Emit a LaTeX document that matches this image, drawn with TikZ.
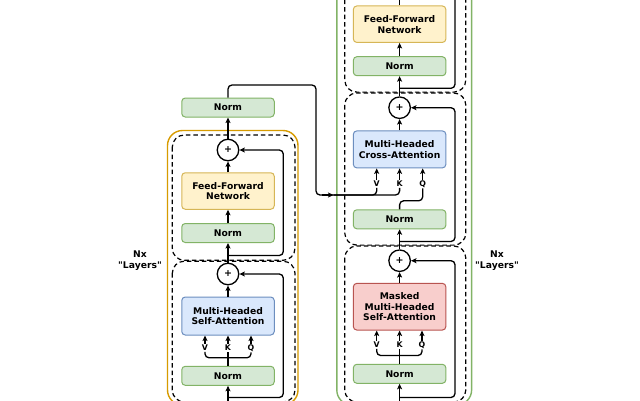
\documentclass[tikz,border=0pt]{standalone}
\usepackage{fontspec}
\setmainfont{DejaVu Sans}[Ligatures=TeXOff]
\usetikzlibrary{arrows.meta}
\definecolor{normfill}{HTML}{D5E8D4}
\definecolor{normdraw}{HTML}{82B366}
\definecolor{ffnfill}{HTML}{FFF2CC}
\definecolor{ffndraw}{HTML}{D6B656}
\definecolor{attfill}{HTML}{DAE8FC}
\definecolor{attdraw}{HTML}{6C8EBF}
\definecolor{maskfill}{HTML}{F8CECC}
\definecolor{maskdraw}{HTML}{B85450}
\definecolor{encframe}{HTML}{D79B00}
\definecolor{decframe}{HTML}{82B366}
\tikzset{
  basebox/.style={draw, rounded corners=3.5pt, minimum width=92.5pt, align=center,
    font=\bfseries\fontsize{9.2}{10.8}\selectfont, line width=1pt, inner sep=0pt},
  normbox/.style={basebox, fill=normfill, draw=normdraw, minimum height=19pt},
  ffnbox/.style={basebox, fill=ffnfill, draw=ffndraw, minimum height=36.5pt},
  attbox/.style={basebox, fill=attfill, draw=attdraw},
  maskbox/.style={basebox, fill=maskfill, draw=maskdraw},
  addc/.style={circle, draw, line width=1.3pt, minimum size=21.5pt, inner sep=0pt,
    font=\bfseries\fontsize{9.5}{9.5}\selectfont},
  lbl/.style={font=\bfseries\fontsize{7.8}{7.8}\selectfont, inner sep=0.8pt},
  ln/.style={line width=1.3pt, rounded corners=4pt},
  arr/.style={line width=1.3pt, rounded corners=4pt, -{Stealth[length=5.5pt,width=5pt,inset=1.3pt]}},
  dbox/.style={line width=1.2pt, dash pattern=on 4.5pt off 3pt, rounded corners=12pt},
  frame/.style={line width=1.4pt, rounded corners=15pt},
  side/.style={align=center, font=\bfseries\fontsize{9.2}{10.8}\selectfont},
}
\begin{document}
\begin{tikzpicture}[x=1pt,y=-1pt]
\clip (0,0) rectangle (640,400);
\fill[white] (0,0) rectangle (640,400);

% containers
\draw[frame, draw=encframe] (167.5,130.5) rectangle (298,405);
\draw[frame, draw=decframe] (336.8,-20) rectangle (471.6,405);
\draw[dbox] (172.3,135) rectangle (295,260.3);
\draw[dbox] (172.3,261.2) rectangle (295,402);
\draw[dbox] (344.8,-20) rectangle (465.8,92.1);
\draw[dbox] (344.8,93) rectangle (465.8,245.1);
\draw[dbox] (344.8,246) rectangle (465.8,402);

% side labels
\node[side] (nxL) at (140,260.5) {Nx\\"Layers"};
\node[side] (nxR) at (497,260.5) {Nx\\"Layers"};

% ---------------- encoder ----------------
\node[normbox] (eTopNorm) at (228,107.5) {Norm};
\node[addc] (eAdd2) at (228,150) {+};
\node[ffnbox] (eFFN) at (228,191) {Feed-Forward\\Network};
\node[normbox] (eNorm2) at (228,233) {Norm};
\node[addc] (eAdd1) at (228,274) {+};
\node[attbox, minimum height=38pt] (eMHA) at (228,316) {Multi-Headed\\Self-Attention};
\node[lbl] (eV) at (205,348) {V};
\node[lbl] (eK) at (228,348) {K};
\node[lbl] (eQ) at (251,348) {Q};
\node[normbox] (eNorm1) at (228,375.8) {Norm};

\coordinate (eIn) at (228,410);
\coordinate (eB1) at (228,397.5);
\coordinate (eR1) at (283.3,274);
\coordinate (eB2) at (228,255.5);
\coordinate (eR2) at (283.3,150);
\coordinate (eBr) at (228,357.8);

\draw[arr] (eIn) -- (eNorm1.south);
\draw[arr] (eB1) -| (eR1) -- (eAdd1.east);
\draw[ln] (eNorm1.north) -- (eK.south);
\draw[ln] (eV.south) |- (eBr) -| (eQ.south);
\draw[arr] (eV.north) -- (eV.north |- eMHA.south);
\draw[arr] (eK.north) -- (eK.north |- eMHA.south);
\draw[arr] (eQ.north) -- (eQ.north |- eMHA.south);
\draw[arr] (eMHA.north) -- (eAdd1.south);
\draw[arr] (eAdd1.north) -- (eNorm2.south);
\draw[arr] (eB2) -| (eR2) -- (eAdd2.east);
\draw[arr] (eNorm2.north) -- (eFFN.south);
\draw[arr] (eFFN.north) -- (eAdd2.south);
\draw[arr] (eAdd2.north) -- (eTopNorm.south);

% ---------------- decoder ----------------
\node[ffnbox] (dFFN) at (399.6,24.2) {Feed-Forward\\Network};
\node[normbox] (dNorm3) at (399.6,66.2) {Norm};
\node[addc] (dAdd2) at (399.6,107.7) {+};
\node[attbox, minimum height=37pt] (dCA) at (399.6,149.4) {Multi-Headed\\Cross-Attention};
\node[lbl] (dV) at (376.7,184) {V};
\node[lbl] (dK) at (399.6,184) {K};
\node[lbl] (dQ) at (422.7,184) {Q};
\node[normbox] (dNorm2) at (399.6,219.3) {Norm};
\node[addc] (dAdd1) at (399.6,260.7) {+};
\node[maskbox, minimum height=46.7pt] (dMHA) at (399.6,306.7) {Masked\\Multi-Headed\\Self-Attention};
\node[lbl] (dV1) at (376.7,345) {V};
\node[lbl] (dK1) at (399.6,345) {K};
\node[lbl] (dQ1) at (422,345) {Q};
\node[normbox] (dNorm1) at (399.6,373.8) {Norm};

\coordinate (dIn) at (399.6,410);
\coordinate (dB1) at (399.6,397.5);
\coordinate (dR1) at (455,260.7);
\coordinate (dBr1) at (399.6,355.5);
\coordinate (dB2) at (399.6,241.5);
\coordinate (dR2) at (455,107.7);
\coordinate (dB3) at (399.6,88.3);
\coordinate (dR3) at (455,-10);
\coordinate (dOut) at (399.6,-10);
\coordinate (qC) at (422.7,200.8);

\draw[arr] (dIn) -- (dNorm1.south);
\draw[arr] (dB1) -| (dR1) -- (dAdd1.east);
\draw[ln] (dNorm1.north) -- (dK1.south);
\draw[ln] (dV1.south) |- (dBr1) -| (dQ1.south);
\draw[arr] (dV1.north) -- (dV1.north |- dMHA.south);
\draw[arr] (dK1.north) -- (dK1.north |- dMHA.south);
\draw[arr] (dQ1.north) -- (dQ1.north |- dMHA.south);
\draw[arr] (dMHA.north) -- (dAdd1.south);
\draw[arr] (dAdd1.north) -- (dNorm2.south);
\draw[arr] (dB2) -| (dR2) -- (dAdd2.east);
\draw[ln] (dNorm2.north) |- (qC) -- (dQ.south);
\draw[arr] (dV.north) -- (dV.north |- dCA.south);
\draw[arr] (dK.north) -- (dK.north |- dCA.south);
\draw[arr] (dQ.north) -- (dQ.north |- dCA.south);
\draw[arr] (dCA.north) -- (dAdd2.south);
\draw[arr] (dAdd2.north) -- (dNorm3.south);
\draw[ln] (dB3) -| (dR3);
\draw[arr] (dNorm3.north) -- (dFFN.south);
\draw[ln] (dFFN.north) -- (dOut);

% ---------------- encoder -> decoder ----------------
\coordinate (xA) at (316,85);
\coordinate (xB) at (316,195);
\coordinate (xB2) at (322,195);
\coordinate (xM) at (333.5,195);
\draw[ln] (eTopNorm.north) |- (xA) -- (xB) -| (dV.south);
\draw[arr] (xB2) -- (xM);
\draw[ln] (xM) -| (dK.south);
\end{tikzpicture}
\end{document}
